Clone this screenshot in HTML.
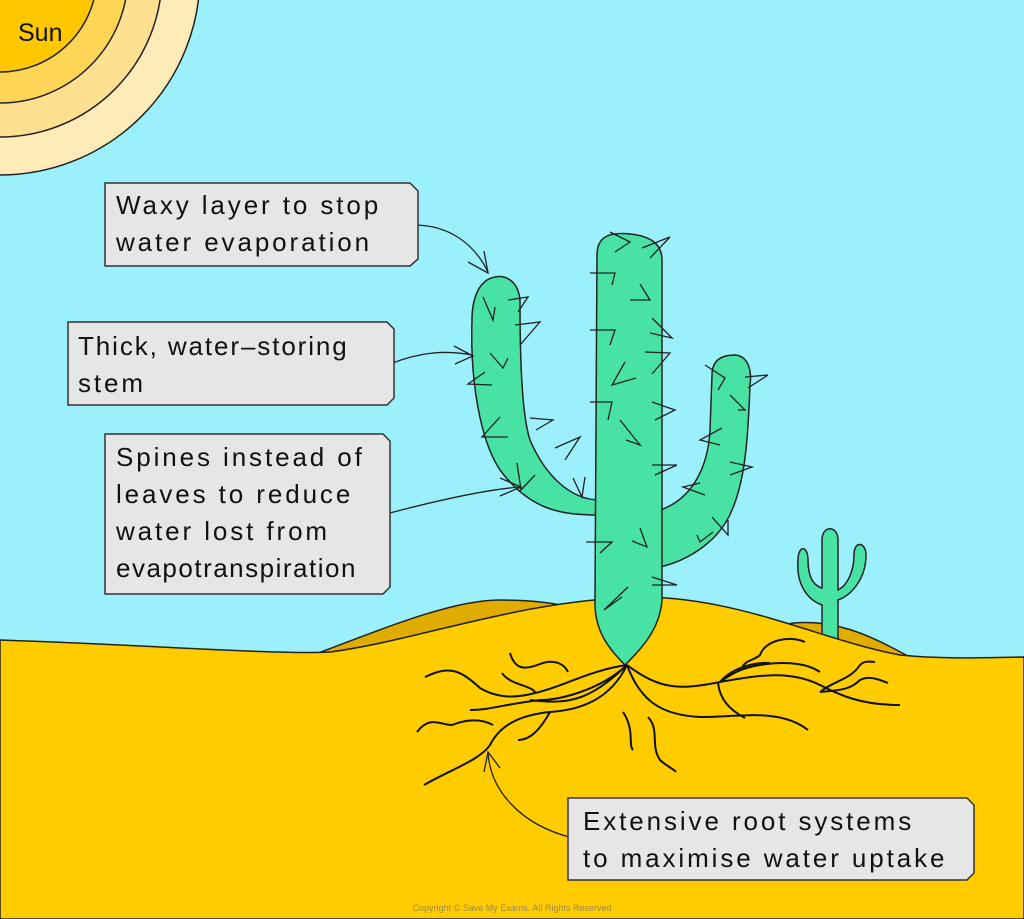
<!DOCTYPE html>
<html><head><meta charset="utf-8"><style>
html,body{margin:0;padding:0;background:#9BF0FC;}
svg{display:block}
text{font-family:"Liberation Sans",sans-serif;fill:#111;}
</style></head><body>
<svg width="1024" height="919" viewBox="0 0 1024 919" xmlns="http://www.w3.org/2000/svg">
<rect width="1024" height="919" fill="#9BF0FC"/>
<g stroke="#222" stroke-width="1.5">
<circle cx="0" cy="-25" r="200" fill="#FFEBB8"/>
<circle cx="0" cy="-25" r="162" fill="#FFE090"/>
<circle cx="0" cy="-25" r="128" fill="#FFD555"/>
<circle cx="0" cy="-25" r="97" fill="#FFC700"/>
</g>
<text x="18" y="41" font-size="25">Sun</text>
<path d="M300,660 C380,630 450,600 500,600 C560,600 600,610 640,640 L640,700 L300,700 Z" fill="#E0AC00" stroke="#222" stroke-width="1.5"/>
<path d="M780,625 C830,615 870,635 915,660 L780,700 Z" fill="#E0AC00" stroke="#222" stroke-width="1.5"/>
<path d="M822,640 L822,605 C808,600 796,585 798,560 C798,545 808,545 808,560 C808,575 812,585 822,588 L822,540 C822,525 838,525 838,540 L838,590 C848,585 854,570 854,555 C854,540 866,542 866,555 C866,578 852,595 838,600 L838,640 Z" fill="#48E2A4" stroke="#222" stroke-width="1.5"/>
<path d="M0,640 C150,645 280,655 330,652 C420,640 520,600 640,597 C740,597 820,640 900,655 C950,660 1000,657 1024,657 L1024,919 L0,919 Z" fill="#FFCC00" stroke="#222" stroke-width="1.5"/>
<g fill="#48E2A4" stroke="#222" stroke-width="1.5">
<path d="M600,500 C570,500 545,475 530,440 C520,410 520,330 520,300 C518,280 505,275 495,277 C478,280 472,300 472,320 C470,380 480,440 500,470 C530,510 560,515 600,515 Z"/>
<path d="M660,510 C690,500 708,470 710,430 L712,375 C712,360 722,355 735,355 C748,356 752,370 750,385 C748,440 745,480 732,510 C720,540 690,560 660,567 Z"/>
<path d="M597,255 C597,236 610,232 630,234 C652,236 662,245 662,260 L662,600 C660,630 640,650 625,665 C608,648 594,630 595,600 Z"/>
</g>
<g fill="none" stroke="#222" stroke-width="1.3">
<path d="M610,232 L630,242 L615,252"/><path d="M650,258 L670,237 L642,248"/>
<path d="M590,273 L615,273 L612,285"/><path d="M630,300 L650,300 L640,284"/>
<path d="M590,330 L615,330 L610,345"/><path d="M652,318 L672,338 L650,333"/>
<path d="M645,352 L670,353 L652,374"/><path d="M625,362 L612,385 L636,378"/>
<path d="M590,402 L612,402 L608,420"/><path d="M652,402 L675,410 L655,420"/>
<path d="M620,420 L640,445 L626,440"/><path d="M652,465 L677,465 L655,475"/>
<path d="M586,542 L612,542 L600,553"/><path d="M640,528 L647,547 L632,541"/>
<path d="M652,577 L677,585 L652,585"/><path d="M628,587 L604,610 L622,597"/>
<path d="M483,297 L493,320 L495,307"/><path d="M508,300 L528,297 L518,312"/>
<path d="M515,325 L540,322 L520,345"/><path d="M490,353 L503,368 L508,358"/>
<path d="M485,372 L468,384 L492,385"/><path d="M500,417 L482,437 L508,437"/>
<path d="M530,418 L553,420 L536,430"/><path d="M555,448 L580,437 L565,460"/>
<path d="M517,463 L521,490 L535,475"/><path d="M573,478 L582,497 L585,477"/>
<path d="M705,365 L725,378 L718,390"/><path d="M745,377 L768,375 L748,388"/>
<path d="M730,395 L745,410 L738,410"/><path d="M722,428 L700,440 L720,445"/>
<path d="M730,462 L752,467 L730,475"/><path d="M700,483 L683,487 L705,495"/>
<path d="M712,517 L728,535 L728,520"/><path d="M697,535 L700,542 L713,532"/>
</g>
<g fill="none" stroke="#111" stroke-width="2">
<path d="M627,665 C600,690 560,700 540,700 C500,705 490,710 470,710"/>
<path d="M627,665 C590,700 570,705 530,700"/>
<path d="M425,677 C450,665 460,670 480,688 C500,700 520,697 535,693 C560,688 590,670 627,665"/>
<path d="M510,653 C515,670 525,670 540,664 C555,658 565,665 568,672"/>
<path d="M502,673 C510,685 530,685 535,692"/>
<path d="M627,665 C610,700 580,710 550,712 C520,715 500,725 490,745 C480,760 450,770 424,785"/>
<path d="M417,732 C430,715 440,725 452,725 C465,720 480,718 493,725"/>
<path d="M550,712 C540,730 530,740 518,740"/>
<path d="M627,665 C660,690 680,690 720,682 C760,675 790,670 820,685 C840,695 860,705 900,705"/>
<path d="M627,665 C640,700 660,715 700,717 C740,717 780,708 808,730"/>
<path d="M623,712 C635,730 628,745 633,750"/>
<path d="M648,717 C660,730 650,745 660,760 C665,765 675,770 676,772"/>
<path d="M720,682 C730,675 740,668 760,665 C790,660 810,665 820,672"/>
<path d="M742,668 C745,660 755,660 760,655 C765,640 790,635 805,642"/>
<path d="M720,682 C730,670 750,662 770,663"/>
<path d="M718,683 C720,700 730,710 745,718"/>
<path d="M820,692 C840,690 850,690 860,680 C870,675 880,680 888,683"/>
<path d="M820,692 C835,680 850,680 860,665 C865,660 870,662 875,662"/>
</g>
<g fill="none" stroke="#222" stroke-width="1.3">
<path d="M414,225 C450,225 475,245 488,272"/><path d="M468,262 L488,273 L484,251"/>
<path d="M390,364 C420,352 445,350 472,355"/><path d="M454,346 L473,356 L455,364"/>
<path d="M386,514 C420,505 480,490 520,487"/><path d="M500,478 L521,487 L500,496"/>
<path d="M573,838 C520,825 490,790 488,752"/><path d="M484,772 L488,752 L500,768"/>
</g>
<g fill="#fff" stroke="#222" stroke-width="1.3"><circle cx="411" cy="225" r="3"/><circle cx="387" cy="364" r="3"/><circle cx="384" cy="514" r="3"/><circle cx="576" cy="838" r="3"/></g>
<g fill="#E6E6E6" stroke="#333" stroke-width="1.5">
<path d="M105,183 L410,183 L418,191 L418,259 L410,266 L105,266 Z"/>
<path d="M68,322 L387,322 L394,329 L394,398 L387,405 L68,405 Z"/>
<path d="M105,434 L383,434 L390,441 L390,587 L383,594 L105,594 Z"/>
<path d="M568,798 L967,798 L974,805 L974,873 L967,880 L568,880 Z"/>
</g>
<g font-size="26" letter-spacing="2.9">
<text x="116" y="214">Waxy layer to stop</text>
<text x="116" y="251">water evaporation</text>
<text x="78" y="355" letter-spacing="1.9">Thick, water–storing</text>
<text x="78" y="392">stem</text>
<text x="116" y="466">Spines instead of</text>
<text x="116" y="503">leaves to reduce</text>
<text x="116" y="540">water lost from</text>
<text x="116" y="577" letter-spacing="1.5">evapotranspiration</text>
<text x="583" y="830">Extensive root systems</text>
<text x="583" y="867">to maximise water uptake</text>
</g>
<text x="512" y="911" font-size="9" style="fill:#a08a40" text-anchor="middle">Copyright © Save My Exams. All Rights Reserved</text>
</svg>
</body></html>
